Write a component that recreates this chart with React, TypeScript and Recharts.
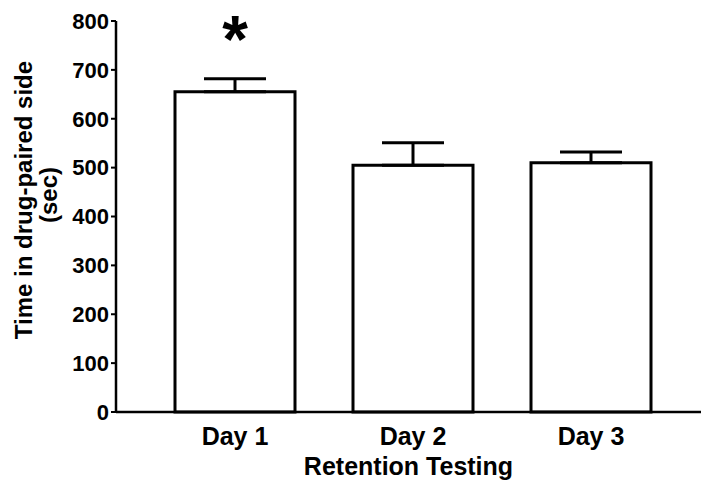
import React from "react";
import { Bar, BarChart, ErrorBar, LabelList, Label, XAxis, YAxis } from "recharts";

const DAYS = ["Day 1", "Day 2", "Day 3"];
const MEAN_TIME = [655, 505, 510];
const SEM_UP = [27, 46, 22];
const SIG = ["*", "", ""];
const Y_TICKS = [0, 100, 200, 300, 400, 500, 600, 700, 800];

const FONT = '"Liberation Sans", Arial, Helvetica, sans-serif';

const data = DAYS.map((day, i) => ({
  day,
  time: MEAN_TIME[i],
  err: [0, SEM_UP[i]],
  sig: SIG[i],
}));

// two-line rotated y label, placed relative to the axis box
function YLabel(props: any) {
  const vb = props.viewBox || { x: 0, y: 0, width: 0, height: 0 };
  const x1 = vb.x + 23;
  const x2 = vb.x + 48;
  const cy = 200;
  return (
    <g fontFamily={FONT} fontWeight="bold" fontSize={24} fill="#000">
      <text x={x1} y={cy} textAnchor="middle" dominantBaseline="central" transform={`rotate(-90, ${x1}, ${cy})`}>
        Time in drug-paired side
      </text>
      <text x={x2} y={cy - 5} textAnchor="middle" dominantBaseline="central" transform={`rotate(-90, ${x2}, ${cy - 5})`}>
        (sec)
      </text>
    </g>
  );
}

export default function App() {
  return (
    <div style={{ position: "absolute", left: 0, top: 0, width: 701, height: 484, background: "#fff" }}>
      <BarChart width={701} height={484} data={data} margin={{ top: 21, right: 0, bottom: 0, left: 0 }}>
        <XAxis
          dataKey="day"
          height={72}
          padding={{ left: 30, right: 21 }}
          axisLine={{ stroke: "#000", strokeWidth: 2.5 }}
          tickLine={false}
          tickSize={0}
          tickMargin={15}
          tick={{ fill: "#000", fontSize: 25, fontWeight: "bold", fontFamily: FONT }}
        >
          <Label
            value="Retention Testing"
            position="insideBottom"
            offset={9}
            style={{ fill: "#000", fontSize: 25, fontWeight: "bold", fontFamily: FONT }}
          />
        </XAxis>
        <YAxis
          width={116}
          domain={[0, 800]}
          ticks={Y_TICKS}
          interval={0}
          axisLine={{ stroke: "#000", strokeWidth: 2.5 }}
          tickLine={{ stroke: "#000", strokeWidth: 2 }}
          tickSize={5}
          tickMargin={2}
          tick={{ fill: "#000", fontSize: 22, fontWeight: "bold", fontFamily: FONT }}
          label={<YLabel />}
        />
        <Bar dataKey="time" barSize={120} fill="#fff" stroke="#000" strokeWidth={3} isAnimationActive={false}>
          <ErrorBar dataKey="err" width={31} stroke="#000" strokeWidth={3} isAnimationActive={false} />
          <LabelList
            dataKey="sig"
            position="top"
            offset={30}
            style={{ fill: "#000", fontSize: 66, fontWeight: "bold", fontFamily: FONT }}
          />
        </Bar>
      </BarChart>
    </div>
  );
}
